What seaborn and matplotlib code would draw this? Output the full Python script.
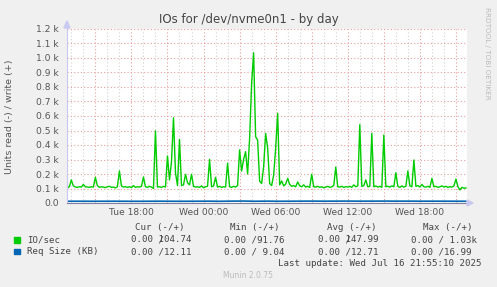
import numpy as np
import matplotlib
matplotlib.use("Agg")
import matplotlib.pyplot as plt
import seaborn as sns
from matplotlib.patches import Rectangle, Polygon

# ---------------- data ----------------
# IO/sec (write, +) every 10 minutes, from Tue 12:40 to Wed 21:50
io_write = [
    105, 112, 159, 118, 110, 108, 112, 110, 128, 112,
    110, 108, 112, 110, 177, 120, 108, 112, 110, 106,
    112, 115, 108, 110, 104, 112, 221, 118, 110, 113,
    108, 112, 106, 120, 108, 112, 110, 115, 179, 112,
    108, 115, 110, 100, 497, 110, 112, 108, 115, 110,
    324, 159, 285, 588, 207, 120, 439, 120, 125, 198,
    140, 125, 198, 115, 110, 112, 108, 118, 105, 112,
    115, 301, 112, 118, 177, 110, 115, 108, 112, 110,
    274, 112, 108, 115, 110, 120, 366, 220, 301, 354,
    200, 446, 825, 1036, 457, 434, 150, 135, 250, 480,
    380, 135, 120, 193, 377, 619, 125, 152, 118, 130,
    170, 128, 115, 120, 112, 145, 118, 112, 125, 110,
    115, 108, 198, 112, 110, 115, 108, 112, 105, 110,
    115, 108, 112, 120, 248, 112, 110, 115, 108, 112,
    110, 115, 108, 125, 112, 118, 540, 115, 120, 159,
    112, 115, 480, 112, 118, 110, 115, 108, 469, 112,
    115, 110, 118, 112, 209, 115, 108, 118, 110, 115,
    221, 118, 112, 297, 115, 120, 110, 128, 112, 110,
    115, 108, 170, 112, 115, 108, 112, 118, 110, 115,
    108, 112, 110, 118, 165, 112, 90, 108, 102, 104,
]
# Req Size (KB) (write, +), roughly hourly
req_size = [
    12.0, 12.2, 11.9, 12.1, 12.3, 12.0, 11.8, 12.1, 12.4, 12.0,
    11.9, 12.2, 12.6, 11.8, 12.9, 13.4, 12.1, 12.8, 12.0, 12.3,
    12.7, 13.0, 12.5, 12.9, 13.1, 12.6, 12.8, 13.2, 12.7, 12.9,
    12.4, 12.6, 12.5, 12.3, 12.1,
]
t_start, t_end = -11.333, 21.833  # hours relative to Wed 00:00
t_io = t_start + np.arange(len(io_write)) / 6.0
t_req = np.linspace(t_start, t_end, len(req_size))

x_ticks = [-6, 0, 6, 12, 18]
x_labels = ["Tue 18:00", "Wed 00:00", "Wed 06:00", "Wed 12:00", "Wed 18:00"]
y_ticks = list(range(0, 1300, 100))
y_labels = ["0.0", "0.1 k", "0.2 k", "0.3 k", "0.4 k", "0.5 k", "0.6 k",
            "0.7 k", "0.8 k", "0.9 k", "1.0 k", "1.1 k", "1.2 k"]

series_names = ["IO/sec", "Req Size (KB)"]
series_colors = ["#00CC00", "#0066B3"]
# rrdtool prints the slash on top of the leading "1" for these two cells
cur_vals = [("0.00 104.74", "     /"), ("0.00 /12.11", None)]
min_vals = ["0.00 /91.76", "0.00 / 9.04"]
avg_vals = [("0.00 147.99", "     /"), ("0.00 /12.71", None)]
max_vals = ["0.00 / 1.03k", "0.00 /16.99"]

# ---------------- figure ----------------
W, H = 497, 287
BG = "#F0F0F0"
fig = plt.figure(figsize=(W / 100, H / 100), dpi=100, facecolor=BG)
ax = fig.add_axes([67 / W, 1 - 203 / H, 400 / W, 174 / H])
ax.set_facecolor("white")


def fp(x, y):
    return (x / W, 1 - y / H)


sns.lineplot(x=t_io, y=io_write, ax=ax, color=series_colors[0], linewidth=1.0)
sns.lineplot(x=t_req, y=req_size, ax=ax, color=series_colors[1], linewidth=1.2)

ax.set_xlim(-11.36, 21.92)
ax.set_ylim(0, 1200)

major_x = np.arange(-9, 22, 3)
ax.set_xticks(major_x)
ax.set_xticklabels([x_labels[x_ticks.index(h)] if h in x_ticks else "" for h in major_x])
ax.set_xticks(np.arange(-11, 22, 1), minor=True)
ax.set_yticks(y_ticks)
ax.set_yticklabels(y_labels)

ax.set_axisbelow(True)
ax.grid(which="minor", axis="x", color="#D2D2D2", linestyle=(0, (1, 2)), linewidth=0.8)
ax.grid(which="major", axis="both", color="#E6A0A0", linestyle=(0, (1, 2)), linewidth=0.8)

ax.tick_params(axis="both", which="both", length=0, labelsize=6.6, labelcolor="#555555")
ax.tick_params(axis="y", pad=5.8)
ax.tick_params(axis="x", pad=3.5)
ax.set_xlabel("")
ax.set_ylabel("")

for s in ("top", "right"):
    ax.spines[s].set_visible(False)
ax.spines["left"].set_color("#C8C8F0")
ax.spines["left"].set_linewidth(0.8)
ax.spines["bottom"].set_color("#8080A0")
ax.spines["bottom"].set_linewidth(0.8)

# axis arrows
fig.patches.append(Polygon([fp(64, 28), fp(70, 28), fp(67, 21)], closed=True,
                           transform=fig.transFigure, color="#C8C8F0", zorder=5))
fig.patches.append(Polygon([fp(467, 200), fp(467, 206), fp(473, 203)], closed=True,
                           transform=fig.transFigure, color="#C8C8F0", zorder=5))

# titles
fig.text(*fp(248.5, 19), "IOs for /dev/nvme0n1 - by day", ha="center", va="center",
         fontsize=8.5, color="#444444")
fig.text(*fp(10, 117), "Units read (-) / write (+)", ha="center", va="center",
         rotation=90, fontsize=6.8, color="#555555")
fig.text(*fp(487.5, 53), "RRDTOOL / TOBI OETIKER", ha="center", va="center",
         rotation=270, fontsize=5.2, color="#BBBBBB")

# legend table
mono = dict(family="DejaVu Sans Mono", fontsize=6.6, color="#444444", va="center", ha="left")
hy = 227.3
fig.text(*fp(135, hy), "Cur (-/+)", **mono)
fig.text(*fp(230, hy), "Min (-/+)", **mono)
fig.text(*fp(327, hy), "Avg (-/+)", **mono)
fig.text(*fp(423, hy), "Max (-/+)", **mono)

rows_y = [240.0, 251.7]
for i, (name, col) in enumerate(zip(series_names, series_colors)):
    yy = rows_y[i]
    fig.patches.append(Rectangle(fp(14, yy + 2.7), 5.5 / W, 5.5 / H, transform=fig.transFigure,
                                 color=col, zorder=5))
    fig.text(*fp(26.7, yy), name, **mono)
    for x0, v in ((131, cur_vals[i]), (318, avg_vals[i])):
        a, b = v
        fig.text(*fp(x0, yy), a, **mono)
        if b is not None:
            fig.text(*fp(x0, yy), b, **mono)
    fig.text(*fp(224, yy), min_vals[i], **mono)
    fig.text(*fp(411, yy), max_vals[i], **mono)

fig.text(*fp(482, 263.3), "Last update: Wed Jul 16 21:55:10 2025", **{**mono, "ha": "right"})
fig.text(*fp(248, 276), "Munin 2.0.75", ha="center", va="center", fontsize=5.5, color="#BBBBBB")

fig.savefig("out.png", dpi=100, facecolor=BG)
